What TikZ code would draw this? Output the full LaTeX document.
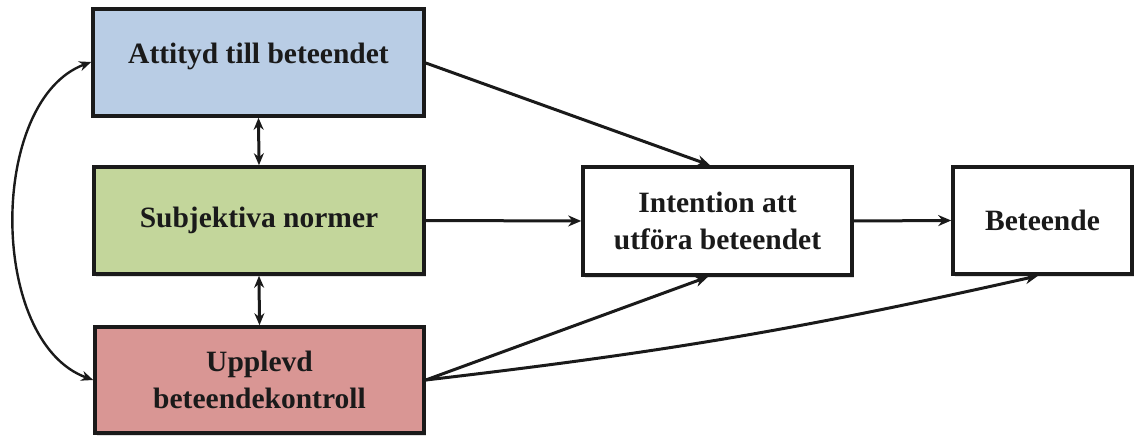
\documentclass[tikz,border=0pt]{standalone}
\usepackage{fontspec}
\setmainfont{Liberation Serif}
\usetikzlibrary{arrows.meta,shadows}
\definecolor{boxblue}{HTML}{B9CDE5}
\definecolor{boxgreen}{HTML}{C3D69B}
\definecolor{boxred}{HTML}{D99694}
\definecolor{ink}{HTML}{1A1A1A}
\begin{document}
\begin{tikzpicture}[x=1pt,y=-1pt,
  box/.style={draw=ink, line width=3.6pt, rectangle, inner sep=0pt, align=center,
    text=ink, font=\fontsize{29.5}{37}\selectfont\bfseries,
    drop shadow={shadow xshift=1.5pt, shadow yshift=-2.5pt, opacity=0.25}},
  conn/.style={line width=3pt, draw=ink, -{Stealth[length=13pt,width=11pt]}},
  dconn/.style={line width=3pt, draw=ink, {Stealth[length=12pt,width=10pt]}-{Stealth[length=12pt,width=10pt]}},
  curv/.style={line width=2.4pt, draw=ink, {Stealth[length=12pt,width=10pt]}-{Stealth[length=12pt,width=10pt]}}
]
\useasboundingbox (0,0) rectangle (1134,438);
\node[box, fill=boxblue, minimum width=331pt, minimum height=107pt, text depth=18pt] (att) at (258.5,62.5) {Attityd till beteendet};
\node[box, fill=boxgreen, minimum width=330pt, minimum height=107pt] (sub) at (259,220.5) {Subjektiva normer};
\node[box, fill=boxred, minimum width=329pt, minimum height=106pt] (upp) at (259.5,380) {Upplevd\\beteendekontroll};
\node[box, fill=white, minimum width=269pt, minimum height=108pt] (int) at (717.5,221) {Intention att\\utföra beteendet};
\node[box, fill=white, minimum width=179pt, minimum height=107pt] (bet) at (1042.5,220.5) {Beteende};

\draw[conn] (att.east |- 0,63) -- (int.north -| 710,0);
\draw[conn] (sub.east) -- (int.west);
\draw[conn] (int.east) -- (bet.west);
\draw[conn] (upp.east) -- (int.south -| 708,0);
\draw[conn] (upp.east) to[bend right=3] (bet.south -| 1038,0);
\draw[dconn] (att.south) -- (sub.north);
\draw[dconn] (sub.south) -- (upp.north);
\draw[curv] (att.west |- 0,62) .. controls (-12,100) and (-12,342) .. (upp.west |- 0,380);
\end{tikzpicture}
\end{document}
